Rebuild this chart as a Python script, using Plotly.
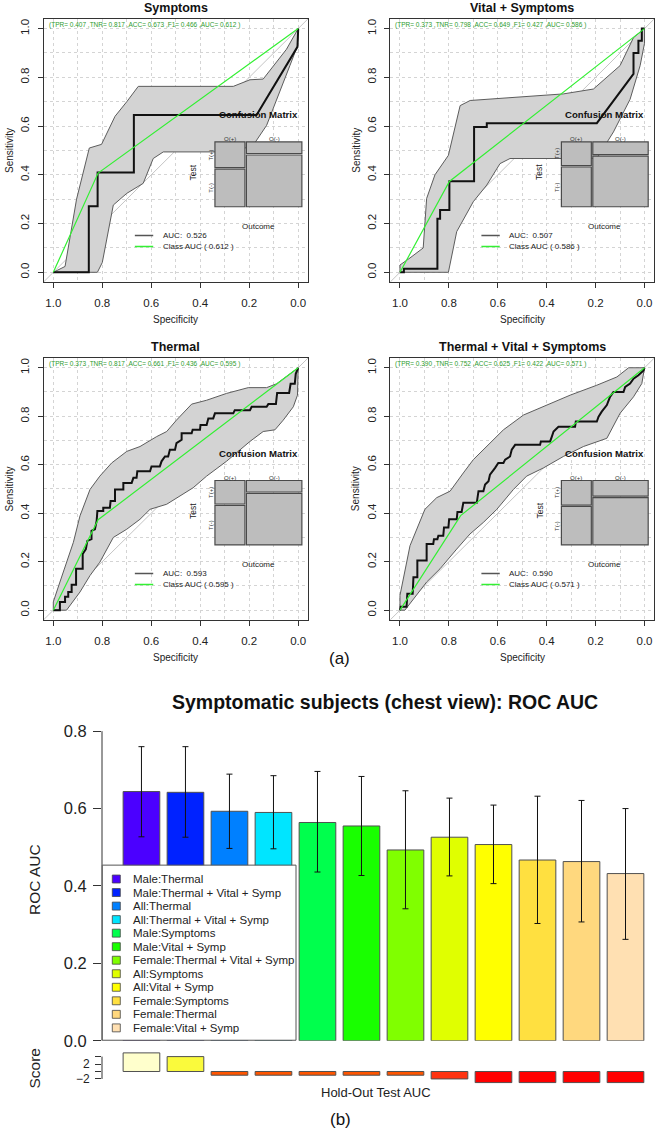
import plotly.graph_objects as go

W, H = 658, 1142
FONT = "Liberation Sans, Arial, Helvetica, sans-serif"

# ---------------- ROC panels data ----------------
PANEL_TITLES = ["Symptoms", "Vital + Symptoms", "Thermal", "Thermal + Vital + Symptoms"]
ROC_AUC = [0.526, 0.507, 0.593, 0.590]
TPR = [0.407, 0.373, 0.373, 0.390]
TNR = [0.817, 0.798, 0.817, 0.752]
ACC = [0.673, 0.649, 0.661, 0.625]
F1 = [0.466, 0.427, 0.436, 0.422]
CLASS_AUC = [0.612, 0.586, 0.595, 0.571]
PREVALENCE = 0.351

SYM_ROC_SPEC = [1.0, 0.855, 0.855, 0.819, 0.819, 0.671, 0.671, 0.170, 0.003, 0.0]
SYM_ROC_SENS = [0.0, 0.0, 0.271, 0.271, 0.410, 0.410, 0.645, 0.645, 0.925, 1.0]
SYM_UP_SPEC = [1.0, 0.952, 0.905, 0.853, 0.803, 0.748, 0.700, 0.653, 0.265, 0.197, 0.143, 0.048, 0.0]
SYM_UP_SENS = [0.0, 0.024, 0.300, 0.510, 0.525, 0.640, 0.700, 0.763, 0.763, 0.790, 0.793, 0.915, 1.0]
SYM_LO_SPEC = [1.0, 0.820, 0.800, 0.755, 0.700, 0.633, 0.592, 0.551, 0.265, 0.184, 0.129, 0.088, 0.034, 0.003, 0.0]
SYM_LO_SENS = [0.0, 0.0, 0.040, 0.276, 0.324, 0.365, 0.467, 0.494, 0.494, 0.521, 0.603, 0.712, 0.848, 0.929, 1.0]

VS_ROC_SPEC = [1.0, 0.984, 0.984, 0.847, 0.847, 0.836, 0.836, 0.798, 0.798, 0.697, 0.697, 0.645, 0.645,
               0.195, 0.045, 0.045, 0.025, 0.025, 0.011, 0.011, 0.0]
VS_ROC_SENS = [0.0, 0.0, 0.015, 0.015, 0.220, 0.220, 0.256, 0.256, 0.374, 0.374, 0.596, 0.596, 0.612,
               0.612, 0.814, 0.900, 0.900, 0.950, 0.950, 1.0, 1.0]
VS_UP_SPEC = [1.0, 1.0, 0.959, 0.905, 0.891, 0.857, 0.802, 0.754, 0.713, 0.591, 0.332, 0.209, 0.100, 0.045, 0.0]
VS_UP_SENS = [0.0, 0.030, 0.059, 0.100, 0.303, 0.400, 0.480, 0.684, 0.705, 0.714, 0.732, 0.752, 0.848, 0.963, 1.0]
VS_LO_SPEC = [1.0, 0.802, 0.768, 0.700, 0.645, 0.591, 0.550, 0.195, 0.127, 0.059, 0.018, 0.0, 0.0]
VS_LO_SENS = [0.0, 0.0, 0.167, 0.290, 0.358, 0.446, 0.467, 0.467, 0.576, 0.710, 0.848, 0.940, 1.0]

TH_ROC_SPEC = [1.000, 0.973, 0.973, 0.952, 0.952, 0.939, 0.939, 0.925, 0.925, 0.907, 0.907, 0.880, 0.880,
               0.867, 0.861, 0.844, 0.844, 0.830, 0.823, 0.820, 0.796, 0.796, 0.769, 0.766, 0.748, 0.748,
               0.714, 0.714, 0.680, 0.673, 0.660, 0.657, 0.605, 0.599, 0.565, 0.558, 0.544, 0.531, 0.524,
               0.503, 0.497, 0.476, 0.476, 0.435, 0.431, 0.401, 0.399, 0.374, 0.367, 0.347, 0.340, 0.265,
               0.259, 0.197, 0.190, 0.129, 0.122, 0.091, 0.086, 0.037, 0.031, 0.014, 0.010, 0.000]
TH_ROC_SENS = [0.000, 0.000, 0.034, 0.034, 0.055, 0.055, 0.075, 0.075, 0.105, 0.105, 0.171, 0.171, 0.232,
               0.252, 0.286, 0.293, 0.327, 0.334, 0.368, 0.409, 0.409, 0.423, 0.423, 0.450, 0.450, 0.498,
               0.498, 0.525, 0.525, 0.546, 0.546, 0.573, 0.573, 0.593, 0.593, 0.614, 0.634, 0.634, 0.662,
               0.662, 0.689, 0.703, 0.730, 0.730, 0.744, 0.744, 0.764, 0.764, 0.791, 0.791, 0.812, 0.812,
               0.825, 0.825, 0.839, 0.839, 0.850, 0.850, 0.896, 0.896, 0.934, 0.934, 0.975, 1.000]
TH_UP_SPEC = [1.0, 1.0, 0.973, 0.918, 0.891, 0.850, 0.810, 0.762, 0.700, 0.646, 0.578, 0.537, 0.497, 0.435,
              0.374, 0.293, 0.204, 0.129, 0.088, 0.034, 0.0]
TH_UP_SENS = [0.0, 0.034, 0.116, 0.280, 0.389, 0.498, 0.553, 0.607, 0.655, 0.675, 0.716, 0.737, 0.784, 0.850,
              0.866, 0.894, 0.918, 0.918, 0.934, 0.975, 1.0]
TH_LO_SPEC = [1.0, 0.946, 0.891, 0.850, 0.810, 0.755, 0.700, 0.646, 0.605, 0.537, 0.483, 0.429, 0.374, 0.293,
              0.197, 0.143, 0.095, 0.061, 0.020, 0.003, 0.0]
TH_LO_SENS = [0.0, 0.0, 0.075, 0.143, 0.198, 0.300, 0.334, 0.375, 0.416, 0.437, 0.471, 0.505, 0.553, 0.614,
              0.696, 0.737, 0.744, 0.784, 0.839, 0.887, 1.0]

TVS_ROC_SPEC = [1.000, 0.997, 0.973, 0.970, 0.948, 0.945, 0.929, 0.929, 0.891, 0.891, 0.864, 0.861, 0.847,
                0.843, 0.823, 0.820, 0.802, 0.799, 0.768, 0.765, 0.748, 0.741, 0.686, 0.679, 0.659, 0.652,
                0.638, 0.632, 0.611, 0.598, 0.577, 0.570, 0.550, 0.543, 0.529, 0.427, 0.424, 0.386, 0.379,
                0.372, 0.352, 0.284, 0.281, 0.195, 0.188, 0.175, 0.154, 0.141, 0.127, 0.086, 0.079, 0.059,
                0.045, 0.025, 0.004, 0.000]
TVS_ROC_SENS = [0.000, 0.014, 0.014, 0.068, 0.068, 0.136, 0.136, 0.205, 0.205, 0.273, 0.273, 0.293, 0.293,
                0.307, 0.307, 0.341, 0.341, 0.375, 0.375, 0.405, 0.405, 0.443, 0.443, 0.491, 0.491, 0.518,
                0.532, 0.559, 0.587, 0.607, 0.607, 0.621, 0.634, 0.662, 0.682, 0.682, 0.696, 0.696, 0.716,
                0.737, 0.757, 0.757, 0.778, 0.778, 0.798, 0.819, 0.846, 0.880, 0.900, 0.900, 0.921, 0.935,
                0.955, 0.969, 0.989, 1.000]
TVS_UP_SPEC = [1.0, 1.0, 0.959, 0.898, 0.850, 0.795, 0.741, 0.700, 0.632, 0.577, 0.495, 0.413, 0.304, 0.195,
               0.113, 0.065, 0.0]
TVS_UP_SENS = [0.0, 0.061, 0.266, 0.416, 0.464, 0.491, 0.566, 0.621, 0.689, 0.744, 0.805, 0.839, 0.887, 0.928,
               0.962, 1.0, 1.0]
TVS_LO_SPEC = [1.0, 0.980, 0.932, 0.891, 0.836, 0.768, 0.714, 0.659, 0.604, 0.536, 0.482, 0.413, 0.332, 0.250,
               0.154, 0.100, 0.045, 0.011, 0.0]
TVS_LO_SENS = [0.0, 0.0, 0.061, 0.116, 0.171, 0.252, 0.314, 0.362, 0.416, 0.498, 0.553, 0.587, 0.634, 0.675,
               0.709, 0.812, 0.880, 0.935, 1.0]

ROC_SPEC = [SYM_ROC_SPEC, VS_ROC_SPEC, TH_ROC_SPEC, TVS_ROC_SPEC]
ROC_SENS = [SYM_ROC_SENS, VS_ROC_SENS, TH_ROC_SENS, TVS_ROC_SENS]
UP_SPEC = [SYM_UP_SPEC, VS_UP_SPEC, TH_UP_SPEC, TVS_UP_SPEC]
UP_SENS = [SYM_UP_SENS, VS_UP_SENS, TH_UP_SENS, TVS_UP_SENS]
LO_SPEC = [SYM_LO_SPEC, VS_LO_SPEC, TH_LO_SPEC, TVS_LO_SPEC]
LO_SENS = [SYM_LO_SENS, VS_LO_SENS, TH_LO_SENS, TVS_LO_SENS]
ROC_TICKS = [0.0, 0.2, 0.4, 0.6, 0.8, 1.0]

# ---------------- Bar chart data ----------------
BAR_LABELS = ["Male:Thermal", "Male:Thermal + Vital + Symp", "All:Thermal", "All:Thermal + Vital + Symp",
              "Male:Symptoms", "Male:Vital + Symp", "Female:Thermal + Vital + Symp", "All:Symptoms",
              "All:Vital + Symp", "Female:Symptoms", "Female:Thermal", "Female:Vital + Symp"]
BAR_AUC = [0.644, 0.642, 0.593, 0.590, 0.564, 0.555, 0.493, 0.526, 0.507, 0.467, 0.463, 0.432]
BAR_HI = [0.760, 0.760, 0.689, 0.685, 0.696, 0.683, 0.646, 0.627, 0.609, 0.632, 0.621, 0.600]
BAR_LO = [0.527, 0.526, 0.497, 0.496, 0.436, 0.427, 0.341, 0.426, 0.406, 0.303, 0.307, 0.262]
BAR_COLORS = ["#4B00FF", "#0022FF", "#0080FF", "#00E5FF", "#00FF4D", "#19FF00", "#80FF00", "#E0FF00",
              "#FFFF00", "#FFE040", "#FFD87E", "#FFE0B2"]
SCORE = [5, 4, -1, -1, -1, -1, -1, -2, -3, -3, -3, -3]
SCORE_COLORS = ["#FFFFCC", "#FAFA3C", "#FF5500", "#FF5500", "#FF5500", "#FF5500", "#FF5500", "#FF3311",
                "#FF0000", "#FF0000", "#FF0000", "#FF0000"]
AUC_TICKS = [0.0, 0.2, 0.4, 0.6, 0.8]
SCORE_TICKS = [-2, 0, 2, 4]
SCORE_TICK_TEXT = ["\u22122", "", "2", ""]
BAR_X = [0.7 + 1.2 * i for i in range(len(BAR_AUC))]


def pxx(px):
    return px / W


def pxy(py):
    return 1 - py / H


def ann(text, x, y, size, color="#222", angle=0, **kw):
    d = dict(text=text, x=pxx(x), y=pxy(y), xref="paper", yref="paper", showarrow=False,
             xanchor="center", yanchor="middle", textangle=angle, font=dict(size=size, color=color))
    d.update(kw)
    return d


fig = go.Figure()
shapes = []
annotations = []
layout = {}

# panel boxes in page pixels: left, top, right, bottom
PANEL_BOX = [(43.5, 19.0, 308.0, 284.3), (390.2, 19.0, 654.3, 284.3),
             (43.5, 360.9, 308.0, 624.8), (390.2, 360.9, 654.3, 624.8)]

GRID = "#D4D4D4"
for i in range(4):
    sfx = "" if i == 0 else str(i + 1)
    xr, yr = "x" + sfx, "y" + sfx
    left, top, right, bottom = PANEL_BOX[i]
    axcommon = dict(ticks="outside", ticklen=5, tickcolor="#333", showline=True, linecolor="#333",
                    linewidth=1, mirror=True, zeroline=False, showgrid=True, gridcolor=GRID,
                    griddash="dot", gridwidth=1, tickvals=ROC_TICKS, tickformat=".1f",
                    tickfont=dict(size=11.5, color="#222", family=FONT),
                    minor=dict(tick0=0, dtick=0.1, showgrid=True, gridcolor=GRID, griddash="dot"))
    layout["xaxis" + sfx] = dict(domain=[pxx(left), pxx(right)], range=[1.04, -0.04], anchor=yr,
                                 ticklabelstandoff=5, **axcommon)
    layout["yaxis" + sfx] = dict(domain=[pxy(bottom), pxy(top)], range=[-0.04, 1.04], anchor=xr,
                                 tickangle=-90, ticklabelstandoff=4, **axcommon)

    fig.add_trace(go.Scatter(x=[1.04, -0.04], y=[-0.04, 1.04], mode="lines", xaxis=xr, yaxis=yr,
                             line=dict(color="#C4C4C4", width=1), showlegend=False, hoverinfo="skip"))
    bx = list(UP_SPEC[i]) + list(LO_SPEC[i])[::-1]
    by = list(UP_SENS[i]) + list(LO_SENS[i])[::-1]
    fig.add_trace(go.Scatter(x=bx, y=by, mode="lines", fill="toself", fillcolor="#D3D3D3",
                             line=dict(color="#5C5C5C", width=1), xaxis=xr, yaxis=yr, showlegend=False,
                             hoverinfo="skip"))
    fig.add_trace(go.Scatter(x=ROC_SPEC[i], y=ROC_SENS[i], mode="lines", xaxis=xr, yaxis=yr,
                             line=dict(color="#111111", width=2), showlegend=False))
    fig.add_trace(go.Scatter(x=[1.0, TNR[i], 0.0], y=[0.0, TPR[i], 1.0], mode="lines", xaxis=xr, yaxis=yr,
                             line=dict(color="#33F033", width=1.2), showlegend=False))

    annotations.append(ann("<b>%s</b>" % PANEL_TITLES[i], (left + right) / 2, top - 11.3, 12.5, "#111"))
    annotations.append(ann("Specificity", (left + right) / 2, bottom + 37.5, 10))
    annotations.append(ann("Sensitivity", left - 34.0, (top + bottom) / 2, 10, angle=-90))
    annotations.append(dict(text="(TPR= %.3f ,TNR= %.3f ,ACC= %.3f ,F1= %.3f ,AUC= %.3f )"
                                 % (TPR[i], TNR[i], ACC[i], F1[i], CLASS_AUC[i]),
                            x=1.027, y=1.015, xref=xr, yref=yr, xanchor="left", yanchor="middle",
                            showarrow=False, font=dict(size=6.5, color="#2E9B2E")))

    shapes.append(dict(type="line", xref=xr, yref=yr, x0=0.667, x1=0.592, y0=0.151, y1=0.151,
                       line=dict(color="#555", width=1.5), layer="above"))
    shapes.append(dict(type="line", xref=xr, yref=yr, x0=0.667, x1=0.592, y0=0.106, y1=0.106,
                       line=dict(color="#33F033", width=1.5), layer="above"))
    annotations.append(dict(text="AUC:  %.3f" % ROC_AUC[i], x=0.562, y=0.151, xref=xr, yref=yr,
                            xanchor="left", yanchor="middle", showarrow=False, font=dict(size=8, color="#222")))
    annotations.append(dict(text="Class AUC ( %.3f )" % CLASS_AUC[i], x=0.562, y=0.106, xref=xr, yref=yr,
                            xanchor="left", yanchor="middle", showarrow=False, font=dict(size=8, color="#222")))

    # confusion matrix mosaic
    xl, xrt, gap = 0.34, -0.015, 0.006
    yt, yb = 0.535, 0.269
    avail_w = (xl - xrt) - gap
    lw = PREVALENCE * avail_w
    avail_h = (yt - yb) - gap
    lt = yt - TPR[i] * avail_h
    rt = yt - (1 - TNR[i]) * avail_h
    cells = [(xl, xl - lw, yt, lt), (xl, xl - lw, lt - gap, yb),
             (xl - lw - gap, xrt, yt, rt), (xl - lw - gap, xrt, rt - gap, yb)]
    for (a, b, c, d) in cells:
        shapes.append(dict(type="rect", xref=xr, yref=yr, x0=a, x1=b, y0=c, y1=d, fillcolor="#BDBDBD",
                           line=dict(color="#4A4A4A", width=1.2), layer="above"))
    small = dict(size=6, color="#333")

    def dann(text, x, y, font, angle=0):
        return dict(text=text, x=x, y=y, xref=xr, yref=yr, showarrow=False, xanchor="center",
                    yanchor="middle", textangle=angle, font=font)

    annotations.append(dann("O(+)", xl - lw / 2, yt + 0.012, small))
    annotations.append(dann("O(-)", (xl - lw - gap + xrt) / 2, yt + 0.012, small))
    annotations.append(dann("T(+)", xl + 0.017, (yt + lt) / 2, small, -90))
    annotations.append(dann("T(-)", xl + 0.017, (lt - gap + yb) / 2, small, -90))
    annotations.append(dann("Test", 0.429, 0.41, dict(size=8.5, color="#222"), -90))
    annotations.append(dann("Outcome", (xl + xrt) / 2, 0.188, dict(size=8, color="#222")))
    annotations.append(dann("<b>Confusion Matrix</b>", (xl + xrt) / 2, 0.646, dict(size=9.6, color="#111")))

annotations.append(ann("(a)", 339, 664, 17, "#111"))
annotations.append(ann("(b)", 341, 1128, 17, "#111"))

# ---------------- Bar chart ----------------
BAR_LEFT, BAR_RIGHT = 102.0, 650.0
XRANGE = [-0.376, -0.376 + (BAR_RIGHT - BAR_LEFT) / 36.67]
fig.add_trace(go.Bar(x=BAR_X, y=BAR_AUC, width=1, xaxis="x5", yaxis="y5", showlegend=False,
                     marker=dict(color=BAR_COLORS, line=dict(color="#505050", width=1)),
                     error_y=dict(type="data", symmetric=False,
                                  array=[h - a for h, a in zip(BAR_HI, BAR_AUC)],
                                  arrayminus=[a - l for a, l in zip(BAR_AUC, BAR_LO)],
                                  color="#111", thickness=1, width=3)))
fig.add_trace(go.Bar(x=BAR_X, y=SCORE, width=1, xaxis="x6", yaxis="y6", showlegend=False,
                     marker=dict(color=SCORE_COLORS, line=dict(color="#505050", width=1))))

layout["xaxis5"] = dict(domain=[pxx(BAR_LEFT), pxx(BAR_RIGHT)], range=XRANGE, anchor="y5", visible=False)
layout["yaxis5"] = dict(domain=[pxy(1049), pxy(721)], range=[0, 0.841], anchor="x5", tickvals=AUC_TICKS,
                        tickformat=".1f", ticks="outside", ticklen=8, tickcolor="#333", showline=False,
                        showgrid=False, zeroline=False, tickfont=dict(size=16.5, color="#222"),
                        ticklabelstandoff=3)
layout["xaxis6"] = dict(domain=[pxx(BAR_LEFT), pxx(BAR_RIGHT)], range=XRANGE, anchor="y6", visible=False)
layout["yaxis6"] = dict(domain=[pxy(1092), pxy(1060)], range=[-3.2, 5.333], anchor="x6",
                        tickvals=SCORE_TICKS, ticktext=SCORE_TICK_TEXT, ticks="outside", ticklen=6,
                        tickcolor="#333", showline=False, showgrid=False, zeroline=False,
                        tickfont=dict(size=12, color="#222"), ticklabelstandoff=3)
shapes.append(dict(type="line", xref="x5 domain", yref="y5", x0=0, x1=0, y0=0, y1=0.8,
                   line=dict(color="#333", width=1)))
shapes.append(dict(type="line", xref="x6 domain", yref="y6", x0=0, x1=0, y0=-2, y1=4,
                   line=dict(color="#333", width=1)))

annotations.append(ann("<b>Symptomatic subjects (chest view): ROC AUC</b>", 385, 708, 19.5, "#111"))
annotations.append(ann("ROC AUC", 34, 887, 15.5, angle=-90))
annotations.append(ann("Score", 35, 1077, 15.5, angle=-90))
annotations.append(ann("Hold-Out Test AUC", 376, 1100.7, 13))

# bar legend
shapes.append(dict(type="rect", xref="paper", yref="paper", x0=pxx(102.3), x1=pxx(296), y0=pxy(1048.5),
                   y1=pxy(872), fillcolor="white", line=dict(color="#555", width=1), layer="above"))
for k, (lab, col) in enumerate(zip(BAR_LABELS, BAR_COLORS)):
    cy = 886 + 13.64 * k
    shapes.append(dict(type="rect", xref="paper", yref="paper", x0=pxx(112.3), x1=pxx(120.3),
                       y0=pxy(cy + 4), y1=pxy(cy - 4), fillcolor=col, line=dict(color="#444", width=0.8),
                       layer="above"))
    annotations.append(ann(lab, 131, cy, 11.5, xanchor="left"))

fig.update_layout(width=W, height=H, margin=dict(l=0, r=0, t=0, b=0), paper_bgcolor="white",
                  plot_bgcolor="white", font=dict(family=FONT, color="#222"), shapes=shapes,
                  annotations=annotations, showlegend=False, hovermode=False, **layout)
fig.write_html("out.html", config={"displayModeBar": False, "staticPlot": True},
               post_script="document.body.style.margin='0';document.body.style.overflow='hidden';")
